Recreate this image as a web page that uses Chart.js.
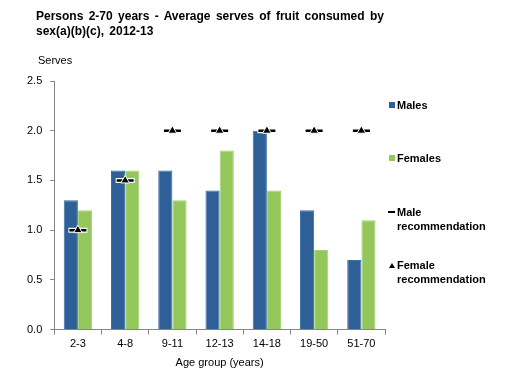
<!DOCTYPE html>
<html>
<head>
<meta charset="utf-8">
<script src="https://cdn.jsdelivr.net/npm/chart.js@4"></script>
<style>
    body { margin: 0; background: #fff; font-family: "Liberation Sans", Arial, sans-serif; }
    #wrap { position: relative; width: 508px; height: 375px; }
    #chart { position: absolute; left: 0; top: 0; }
    .title { position: absolute; left: 36px; top: 9px; font-size: 12px; font-weight: bold; line-height: 15px; color: #000; word-spacing: 2px; }
    .yname { position: absolute; left: 38px; top: 54px; font-size: 11px; color: #000; }
    .leg { position: absolute; left: 397px; font-size: 11px; font-weight: bold; line-height: 14px; color: #000; }
    .sw { position: absolute; }
</style>
</head>
<body>
<div id="wrap">
    <canvas id="chart" width="508" height="375"></canvas>
    <div class="title">Persons 2-70 years - Average serves of fruit consumed by<br>sex(a)(b)(c), 2012-13</div>
    <div class="yname">Serves</div>

    <div class="sw" style="left:389px;top:102px;width:6px;height:6px;background:#2e5f96"></div>
    <div class="leg" style="top:98px">Males</div>

    <div class="sw" style="left:389px;top:155px;width:6px;height:6px;background:#93c75c"></div>
    <div class="leg" style="top:151px">Females</div>

    <div class="sw" style="left:388px;top:211px;width:7px;height:2px;background:#000"></div>
    <div class="leg" style="top:205px">Male<br>recommendation</div>

    <div class="sw" style="left:389px;top:263px;width:0;height:0;border-left:3px solid transparent;border-right:3px solid transparent;border-bottom:5px solid #000"></div>
    <div class="leg" style="top:258px">Female<br>recommendation</div>
</div>
<script>
// donnees
const ageGroups = ["2-3", "4-8", "9-11", "12-13", "14-18", "19-50", "51-70"];
const males = [1.3, 1.6, 1.6, 1.4, 2.0, 1.2, 0.7];
const females = [1.2, 1.6, 1.3, 1.8, 1.4, 0.8, 1.1];
const maleRec = [1.0, 1.5, 2.0, 2.0, 2.0, 2.0, 2.0];
const femaleRec = [1.0, 1.5, 2.0, 2.0, 2.0, 2.0, 2.0];
const yTicks = [0, 0.5, 1.0, 1.5, 2.0, 2.5];

const FONT = "'Liberation Sans', Arial, sans-serif";

const ctx = document.getElementById("chart").getContext("2d");
new Chart(ctx, {
    type: "bar",
    data: {
        labels: ageGroups,
        datasets: [
            {
                label: "Males",
                data: males,
                backgroundColor: "#2e5f96",
                borderColor: "#3a6ea8",
                borderWidth: 1,
                categoryPercentage: 0.6,
                barPercentage: 1.0,
                order: 4
            },
            {
                label: "Females",
                data: females,
                backgroundColor: "#93c75c",
                borderColor: "#a3d46e",
                borderWidth: 1,
                categoryPercentage: 0.6,
                barPercentage: 1.0,
                order: 5
            },
            {
                // contour blanc sous le tiret
                type: "line",
                label: "outline",
                data: maleRec,
                showLine: false,
                pointStyle: "line",
                pointRadius: 9.5,
                pointBorderWidth: 5,
                pointBorderColor: "#fff",
                pointHoverRadius: 9.5,
                order: 3
            },
            {
                type: "line",
                label: "Male recommendation",
                data: maleRec,
                showLine: false,
                pointStyle: "line",
                pointRadius: 8.5,
                pointBorderWidth: 2.5,
                pointBorderColor: "#000",
                pointHoverRadius: 8.5,
                order: 2
            },
            {
                type: "line",
                label: "Female recommendation",
                data: femaleRec,
                showLine: false,
                pointStyle: "triangle",
                pointRadius: 5,
                pointBackgroundColor: "#000",
                pointBorderColor: "#fff",
                pointBorderWidth: 1,
                pointHoverRadius: 5,
                order: 1
            }
        ]
    },
    options: {
        responsive: false,
        animation: false,
        layout: { padding: { left: 19, right: 123, top: 81, bottom: 5 } },
        plugins: {
            legend: { display: false },
            tooltip: { enabled: false }
        },
        scales: {
            x: {
                grid: { display: true, drawOnChartArea: false, tickLength: 5, color: "#868686", offset: true },
                border: { color: "#868686" },
                ticks: { color: "#000", font: { family: FONT, size: 11 }, padding: 3, maxRotation: 0 },
                title: { display: true, text: "Age group (years)", color: "#000", font: { family: FONT, size: 11 }, padding: { top: 3, bottom: 0 } }
            },
            y: {
                min: 0,
                max: 2.5,
                afterBuildTicks: (axis) => { axis.ticks = yTicks.map(v => ({ value: v })); },
                grid: { display: true, drawOnChartArea: false, tickLength: 4, color: "#868686" },
                border: { color: "#868686" },
                ticks: {
                    color: "#000",
                    font: { family: FONT, size: 11 },
                    padding: 8,
                    callback: (v) => Number(v).toFixed(1)
                }
            }
        }
    }
});
</script>
</body>
</html>
